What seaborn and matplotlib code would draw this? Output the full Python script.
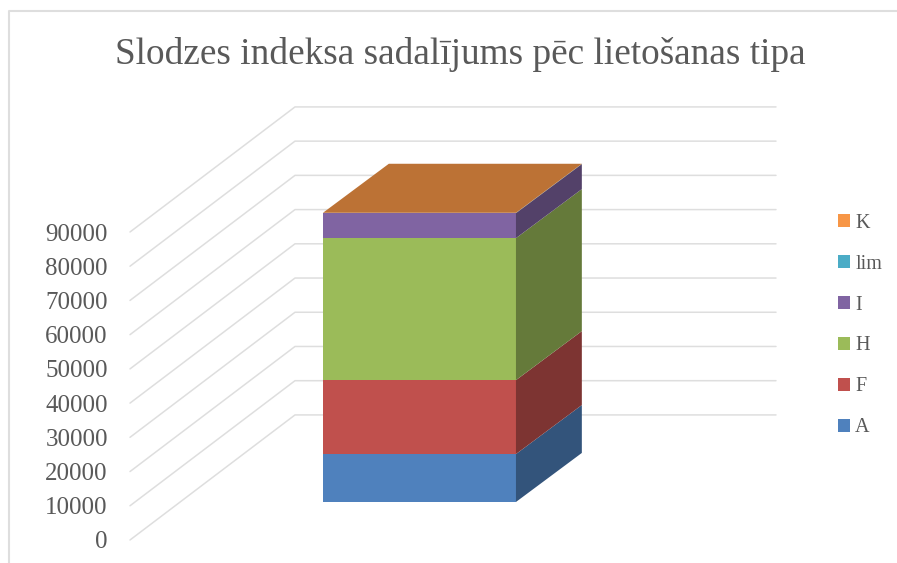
import matplotlib
matplotlib.use("Agg")
import matplotlib.pyplot as plt
from matplotlib.colors import to_rgb
from matplotlib.lines import Line2D
from matplotlib.transforms import Affine2D
import seaborn as sns

TITLE = "Slodzes indeksa sadalījums pēc lietošanas tipa"
CATEGORY = ["Slodze"]
SERIES = ["A", "F", "H", "I", "lim", "K"]
VALUES = [14000, 21600, 41500, 7300, 60, 40]
COLORS = ["#4F81BD", "#C0504D", "#9BBB59", "#8064A2", "#4BACC6", "#F79646"]
TICKS = [0, 10000, 20000, 30000, 40000, 50000, 60000, 70000, 80000, 90000]

W, H = 897, 563
GRID = "#DEDEDE"
TEXT = "#595959"

# pseudo 3D: how far the back wall sits from the front plane, in data units
DEPTH_X = 165 / 481
DEPTH_Y = 125 / 34.2 * 10000
BAR_FRONT = 38 / 125
BAR_BACK = 87 / 125
BAR_WIDTH = 193 / 481
FRONT_NUDGE = -1.2 / 481


def project(x, y, depth):
    return x + depth * DEPTH_X, y + depth * DEPTH_Y


def front(x, y):
    px, py = project(x, y, BAR_FRONT)
    return px + FRONT_NUDGE, py


def shade(color, factor):
    return tuple(c * factor for c in to_rgb(color))


sns.set_theme(style="white")
plt.rcParams["font.family"] = ["Liberation Serif", "DejaVu Serif"]

fig = plt.figure(figsize=(W / 100, H / 100), dpi=100, facecolor="white")
ax = fig.add_axes([130 / W, (H - 540) / H, 481 / W, 308 / H])
ax.patch.set_alpha(0)

# walls
for t in TICKS:
    xs = [-0.5, project(-0.5, t, 1)[0], project(0.5, t, 1)[0]]
    ys = [t, project(-0.5, t, 1)[1], project(0.5, t, 1)[1]]
    ax.plot(xs, ys, color=GRID, lw=1.1, clip_on=False, zorder=1)

# stacked front faces
shift = Affine2D().translate(BAR_FRONT * DEPTH_X + FRONT_NUDGE, BAR_FRONT * DEPTH_Y)
bottom = 0
handles = []
for name, value, color in zip(SERIES, VALUES, COLORS):
    before = len(ax.patches)
    sns.barplot(x=CATEGORY, y=[value], bottom=bottom, width=BAR_WIDTH, color=color,
                saturation=1, errorbar=None, linewidth=0, ax=ax, zorder=3)
    for patch in ax.patches[before:]:
        patch.set_transform(shift + ax.transData)
        patch.set_clip_on(False)
        handles.append(patch)
    # right side face
    right = BAR_WIDTH / 2
    corners = [front(right, bottom), project(right, bottom, BAR_BACK),
               project(right, bottom + value, BAR_BACK), front(right, bottom + value)]
    ax.fill(*zip(*corners), color=shade(color, 0.65), lw=0, clip_on=False, zorder=3)
    bottom += value

# top face takes the colour of the last series
corners = [front(-BAR_WIDTH / 2, bottom), front(BAR_WIDTH / 2, bottom),
           project(BAR_WIDTH / 2, bottom, BAR_BACK), project(-BAR_WIDTH / 2, bottom, BAR_BACK)]
ax.fill(*zip(*corners), color=shade(COLORS[-1], 0.76), lw=0, clip_on=False, zorder=3)

ax.set_xlim(-0.5, 0.5)
ax.set_ylim(0, 90000)
ax.set_xticks([])
ax.set_yticks(TICKS)
ax.set_xlabel("")
ax.set_ylabel("")
ax.tick_params(axis="y", length=0, pad=16, labelsize=18, labelcolor=TEXT)
sns.despine(ax=ax, left=True, bottom=True)

fig.legend(handles[::-1], SERIES[::-1], loc="center left", bbox_to_anchor=(838 / W, (H - 325.5) / H),
           frameon=False, fontsize=14.5, labelcolor=TEXT, handlelength=0.6, handleheight=0.6,
           handletextpad=0.25, labelspacing=1.09, borderpad=0, borderaxespad=0)

fig.text(460 / W, (H - 64) / H, TITLE, ha="center", va="baseline", fontsize=26.8, color=TEXT)

# chart frame
fig.add_artist(Line2D([9.3 / W, 9.3 / W, 1], [0, (H - 10.5) / H, (H - 10.5) / H], color=GRID, lw=1.5))

fig.savefig("out.png", dpi=100)
